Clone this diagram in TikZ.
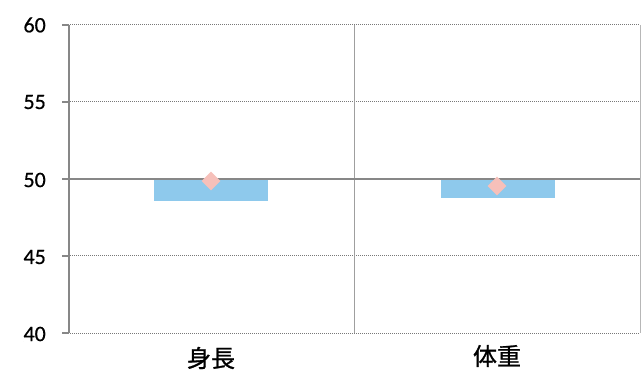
\documentclass[tikz,border=0pt]{standalone}
\usepackage{fontspec}
\setmainfont{Carlito}[FakeBold=0.5]
\newfontfamily\jpfont{Noto Sans CJK JP}[FakeBold=1]
\usetikzlibrary{shapes.geometric}

\definecolor{barblue}{RGB}{142,201,236}
\definecolor{markpink}{RGB}{246,192,186}
\definecolor{axisgray}{RGB}{135,135,135}
\definecolor{gridgray}{RGB}{120,120,120}

\begin{document}
\begin{tikzpicture}[x=1pt, y=-1pt,
        gridline/.style={gridgray, densely dotted, line width=1pt},
        axisline/.style={axisgray, line width=1.2pt},
        ticklabel/.style={anchor=east, inner sep=0pt, font=\fontsize{22}{22}\selectfont},
        catlabel/.style={inner sep=0pt, font=\jpfont\fontsize{24}{24}\selectfont},
        barbox/.style={fill=barblue, inner sep=0pt, minimum width=114pt},
        markbox/.style={diamond, fill=markpink, inner sep=0pt, minimum size=19pt}]
    \useasboundingbox (0,0) rectangle (643,374);

    % grid
    \foreach \y in {25,102,256,333} {
        \draw[gridline] (70,\y) -- (640,\y);
        \draw[axisline] (62,\y) -- (69,\y);
    }
    \draw[axisgray!60, line width=1pt] (640,25) -- (640,333);
    \draw[axisgray!80, line width=1pt] (354,25) -- (354,333);

    % bars
    \node[barbox, minimum height=22pt] (bar1) at (211,190) {};
    \node[barbox, minimum height=19pt] (bar2) at (498,188.5) {};

    % axes
    \draw[axisline] (69,25) -- (69,333);
    \draw[axisline] (62,179) -- (640,179);

    % marks
    \node[markbox] (mark1) at (211,181) {};
    \node[markbox] (mark2) at (497,186) {};

    % labels
    \node[ticklabel] (t60) at (46,25) {60};
    \node[ticklabel] (t55) at (46,102) {55};
    \node[ticklabel] (t50) at (46,180) {50};
    \node[ticklabel] (t45) at (46,257) {45};
    \node[ticklabel] (t40) at (46,334) {40};

    \node[catlabel] (cat1) at (211,358) {身長};
    \node[catlabel] (cat2) at (497,356) {体重};
\end{tikzpicture}
\end{document}
